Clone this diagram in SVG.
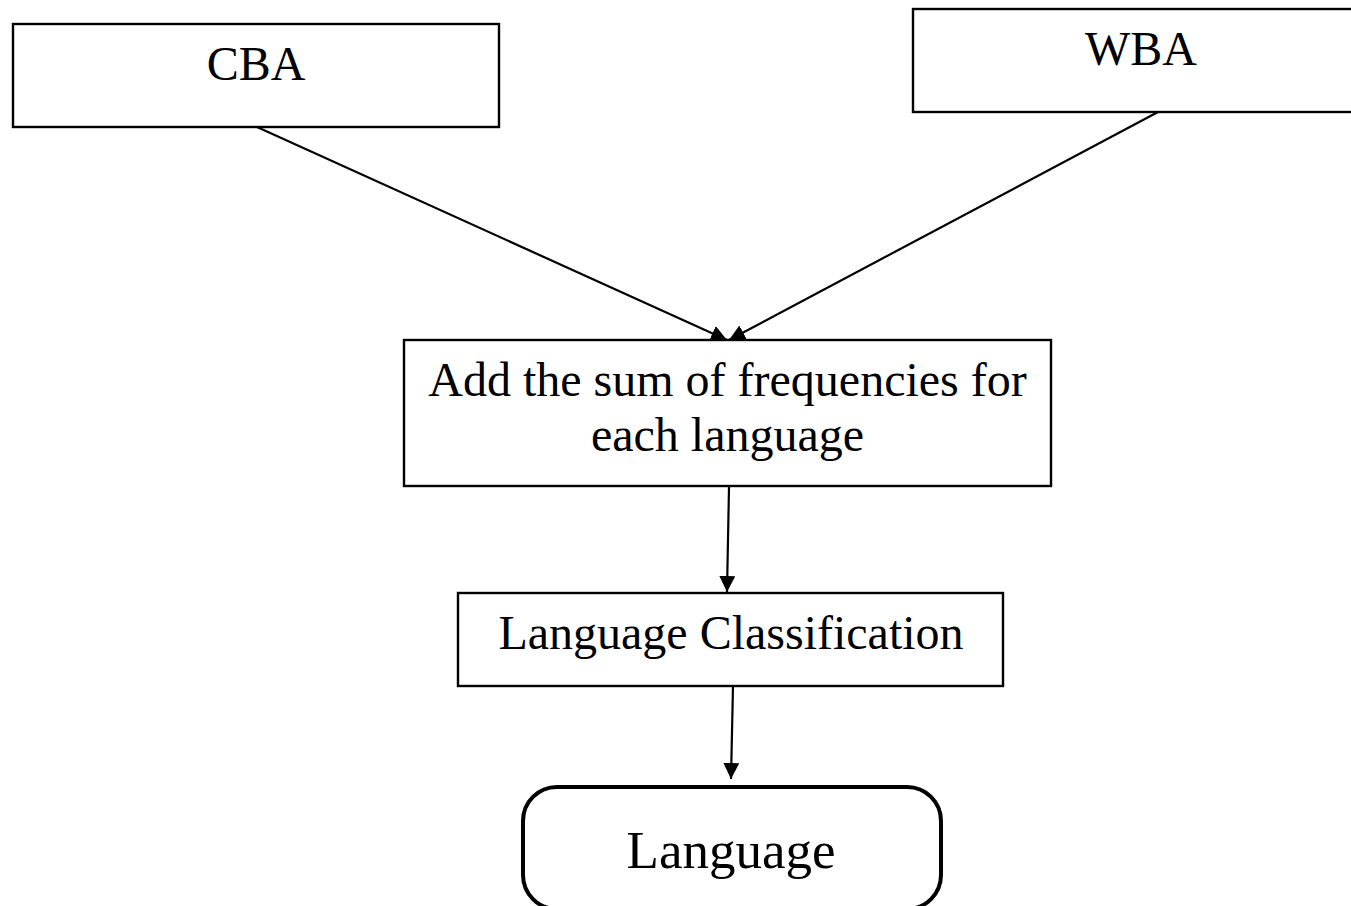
<svg xmlns="http://www.w3.org/2000/svg" width="1351" height="906" viewBox="0 0 1351 906">
<style>
.box{fill:#fff;stroke:#000;stroke-width:2.4}
.term{fill:#fff;stroke:#000;stroke-width:4}
.lbl{font-family:"Liberation Serif","Times New Roman",serif;font-size:48px;fill:#000;text-anchor:middle}
.conn{stroke:#000;stroke-width:2.2;fill:none;marker-end:url(#ah)}
</style>
<defs>
<marker id="ah" markerUnits="userSpaceOnUse" markerWidth="16" markerHeight="16" viewBox="0 0 16 16" refX="16" refY="8" orient="auto">
<path d="M0,0 L16,8 L0,16 Z" fill="#000"/>
</marker>
</defs>
<rect width="1351" height="906" fill="#fff"/>
<g id="connectors">
<line class="conn" x1="257" y1="127" x2="727" y2="340"/>
<line class="conn" x1="1158" y1="112" x2="729" y2="340"/>
<line class="conn" x1="729" y1="487" x2="727" y2="592"/>
<line class="conn" x1="733" y1="686" x2="731" y2="779"/>
</g>
<g id="cba">
<rect class="box" x="13" y="24" width="486" height="103"/>
<text class="lbl" x="256" y="80">CBA</text>
</g>
<g id="wba">
<rect class="box" x="913" y="9" width="460" height="103"/>
<text class="lbl" x="1141" y="65">WBA</text>
</g>
<g id="add">
<rect class="box" x="404" y="340" width="647" height="146"/>
<text class="lbl" x="727.5" y="396">Add the sum of frequencies for</text>
<text class="lbl" x="727.5" y="451">each language</text>
</g>
<g id="classification">
<rect class="box" x="458" y="593" width="545" height="93"/>
<text class="lbl" x="731" y="649">Language Classification</text>
</g>
<g id="language">
<rect class="term" x="523" y="787" width="418" height="122" rx="34" ry="34"/>
<text class="lbl" x="731" y="868" style="font-size:53px">Language</text>
</g>
</svg>
